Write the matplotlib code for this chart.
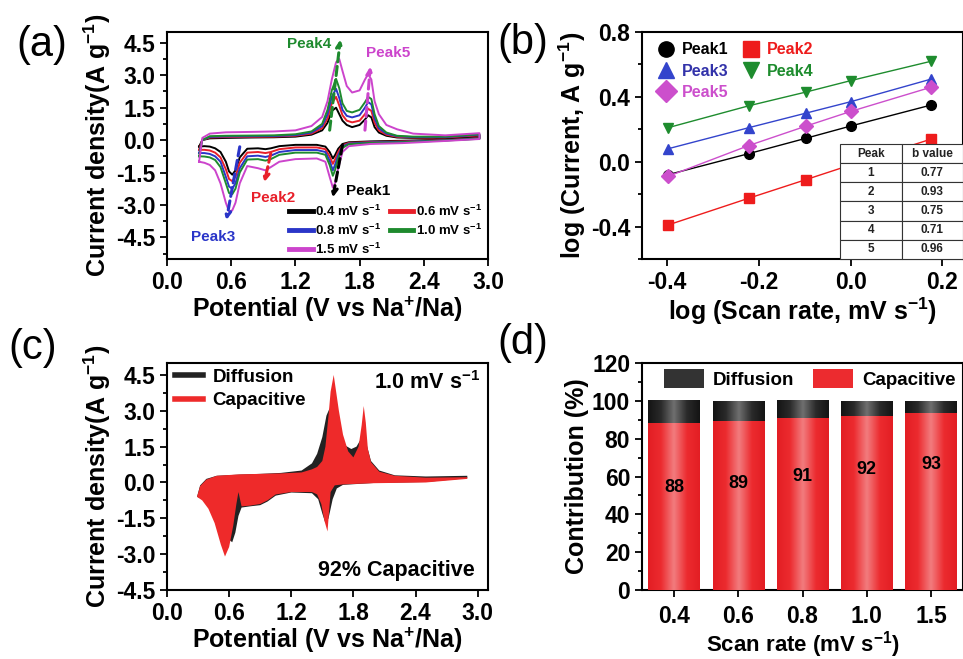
import numpy as np
import matplotlib
matplotlib.use('Agg')
import matplotlib.pyplot as plt
from matplotlib.lines import Line2D
from matplotlib.patches import Patch
from matplotlib.colors import LinearSegmentedColormap

plt.rcParams['font.family'] = ['Liberation Sans', 'DejaVu Sans']
plt.rcParams['font.weight'] = 'bold'
plt.rcParams['axes.labelweight'] = 'bold'
plt.rcParams['mathtext.fontset'] = 'custom'
plt.rcParams['mathtext.rm'] = 'Liberation Sans:bold'
plt.rcParams['mathtext.it'] = 'Liberation Sans:bold'
plt.rcParams['mathtext.bf'] = 'Liberation Sans:bold'
plt.rcParams['mathtext.default'] = 'regular'
plt.rcParams['axes.linewidth'] = 1.5
plt.rcParams['axes.unicode_minus'] = False

# ---------------- DATA ----------------
# (a) CV curves: anodic branch (potential rising) and cathodic branch (potential falling)
scan_labels = ['0.4', '0.6', '0.8', '1.0', '1.5']
V_anodic = [0.30, 0.33, 0.40, 0.55, 0.80, 1.00, 1.20, 1.35, 1.45, 1.50, 1.54, 1.58, 1.61, 1.64,
            1.68, 1.73, 1.80, 1.85, 1.88, 1.91, 1.94, 1.98, 2.05, 2.15, 2.30, 2.60, 2.92]
I_anodic_04 = [-0.30, 0.00, 0.08, 0.10, 0.12, 0.13, 0.16, 0.25, 0.45, 0.80, 1.35, 1.50, 1.20, 0.90,
               0.70, 0.60, 0.70, 0.95, 1.15, 1.05, 0.60, 0.35, 0.20, 0.12, 0.10, 0.10, 0.20]
I_anodic_06 = [-0.45, 0.00, 0.12, 0.14, 0.15, 0.16, 0.20, 0.30, 0.55, 1.00, 1.70, 2.00, 1.60, 1.15,
               0.90, 0.82, 0.90, 1.20, 1.45, 1.35, 0.80, 0.45, 0.25, 0.15, 0.12, 0.12, 0.22]
I_anodic_08 = [-0.60, 0.00, 0.15, 0.17, 0.18, 0.19, 0.23, 0.35, 0.65, 1.20, 2.00, 2.37, 1.95, 1.40,
               1.12, 1.05, 1.15, 1.50, 1.76, 1.65, 1.00, 0.55, 0.30, 0.18, 0.14, 0.14, 0.25]
I_anodic_10 = [-0.75, 0.00, 0.18, 0.20, 0.21, 0.22, 0.27, 0.40, 0.75, 1.40, 2.30, 2.83, 2.40, 1.70,
               1.35, 1.28, 1.40, 1.75, 2.00, 1.90, 1.20, 0.65, 0.35, 0.20, 0.16, 0.16, 0.27]
I_anodic_15 = [-1.00, 0.10, 0.30, 0.36, 0.38, 0.40, 0.45, 0.65, 1.07, 1.80, 2.80, 3.60, 3.75, 3.20,
               2.50, 2.20, 2.30, 2.80, 3.05, 2.80, 1.80, 1.20, 0.70, 0.50, 0.30, 0.22, 0.32]
V_cathodic = [2.92, 2.60, 2.20, 1.90, 1.70, 1.64, 1.60, 1.57, 1.55, 1.52, 1.48, 1.40, 1.20, 1.05,
              0.97, 0.92, 0.85, 0.75, 0.68, 0.64, 0.61, 0.58, 0.55, 0.50, 0.45, 0.40, 0.35, 0.30]
I_cathodic_04 = [0.10, 0.02, -0.03, -0.06, -0.10, -0.18, -0.40, -0.70, -0.85, -0.55, -0.30, -0.22, -0.22, -0.28,
                 -0.38, -0.42, -0.38, -0.40, -0.80, -1.40, -1.60, -1.45, -1.00, -0.55, -0.38, -0.30, -0.28, -0.30]
I_cathodic_06 = [0.08, 0.00, -0.06, -0.09, -0.13, -0.24, -0.55, -0.90, -1.10, -0.75, -0.42, -0.34, -0.34, -0.42,
                 -0.55, -0.60, -0.55, -0.58, -1.05, -1.70, -1.90, -1.80, -1.35, -0.80, -0.58, -0.48, -0.45, -0.45]
I_cathodic_08 = [0.07, -0.01, -0.08, -0.11, -0.16, -0.30, -0.70, -1.15, -1.40, -0.95, -0.55, -0.46, -0.46, -0.55,
                 -0.72, -0.78, -0.72, -0.75, -1.30, -2.00, -2.25, -2.15, -1.70, -1.00, -0.75, -0.64, -0.60, -0.60]
I_cathodic_10 = [0.06, -0.02, -0.10, -0.13, -0.19, -0.36, -0.85, -1.40, -1.65, -1.15, -0.68, -0.58, -0.58, -0.68,
                 -0.88, -0.95, -0.88, -0.90, -1.50, -2.25, -2.50, -2.45, -2.00, -1.25, -0.92, -0.80, -0.76, -0.75]
I_cathodic_15 = [0.05, -0.04, -0.14, -0.18, -0.28, -0.55, -1.30, -2.00, -2.20, -1.70, -1.00, -0.85, -0.88, -1.00,
                 -1.25, -1.40, -1.30, -1.20, -2.00, -2.90, -3.25, -3.30, -2.90, -2.00, -1.40, -1.15, -1.05, -1.00]

# (b) log(i) vs log(v)
log_scan = [-0.398, -0.222, -0.097, 0.0, 0.176]
peak_names = ['Peak1', 'Peak2', 'Peak3', 'Peak4', 'Peak5']
log_i_peak1 = [-0.08, 0.05, 0.145, 0.22, 0.35]
log_i_peak2 = [-0.39, -0.225, -0.11, -0.02, 0.14]
log_i_peak3 = [0.08, 0.21, 0.30, 0.37, 0.51]
log_i_peak4 = [0.21, 0.345, 0.43, 0.50, 0.62]
log_i_peak5 = [-0.09, 0.10, 0.22, 0.31, 0.46]
b_values = [0.77, 0.93, 0.75, 0.71, 0.96]

# (c) 1.0 mV/s: total current (diffusion shows where it exceeds capacitive) and capacitive current
Vt_anodic = [0.29, 0.32, 0.38, 0.48, 0.70, 0.90, 1.10, 1.30, 1.40, 1.45, 1.50, 1.54, 1.57, 1.60,
             1.63, 1.67, 1.72, 1.78, 1.83, 1.87, 1.90, 1.93, 1.97, 2.05, 2.20, 2.50, 2.90]
It_anodic = [-0.60, -0.12, 0.15, 0.28, 0.33, 0.36, 0.40, 0.50, 0.80, 1.20, 1.90, 2.80, 3.10, 2.80,
             2.30, 1.85, 1.55, 1.40, 1.50, 1.80, 2.00, 1.55, 0.90, 0.50, 0.30, 0.25, 0.28]
Vt_cathodic = [2.90, 2.50, 2.00, 1.70, 1.64, 1.60, 1.56, 1.53, 1.50, 1.46, 1.40, 1.20, 1.05,
               0.97, 0.90, 0.80, 0.72, 0.69, 0.66, 0.63, 0.60, 0.56, 0.50, 0.42, 0.35, 0.29]
It_cathodic = [0.18, 0.02, -0.02, -0.10, -0.25, -0.70, -1.50, -1.70, -1.30, -0.70, -0.45, -0.42, -0.55,
               -0.80, -0.95, -1.00, -1.05, -1.40, -2.10, -2.50, -2.40, -2.00, -1.40, -0.95, -0.72, -0.60]
Vc_anodic = [0.29, 0.32, 0.38, 0.48, 0.70, 0.90, 1.10, 1.30, 1.40, 1.45, 1.50, 1.53, 1.56, 1.58, 1.61,
             1.63, 1.66, 1.70, 1.75, 1.80, 1.85, 1.88, 1.90, 1.92, 1.94, 1.97, 2.05, 2.20, 2.50, 2.90]
Ic_anodic = [-0.60, -0.15, 0.12, 0.28, 0.34, 0.36, 0.38, 0.42, 0.55, 0.65, 0.90, 1.50, 2.80, 3.80, 4.50,
             3.90, 3.00, 2.00, 1.30, 1.05, 1.50, 2.40, 3.20, 2.50, 1.40, 0.85, 0.45, 0.28, 0.20, 0.22]
Vc_cathodic = [2.90, 2.50, 2.00, 1.70, 1.62, 1.58, 1.55, 1.52, 1.49, 1.45, 1.40, 1.20, 1.05, 0.97,
               0.90, 0.80, 0.72, 0.69, 0.67, 0.64, 0.60, 0.56, 0.52, 0.46, 0.40, 0.34, 0.29]
Ic_cathodic = [0.15, 0.00, -0.03, -0.08, -0.12, -0.40, -2.05, -1.60, -0.90, -0.50, -0.40, -0.40, -0.50, -0.75,
               -0.90, -0.97, -1.00, -0.40, -0.90, -1.80, -2.70, -3.10, -2.60, -1.70, -1.10, -0.75, -0.60]

# (d) contribution
rate_ticks = ['0.4', '0.6', '0.8', '1.0', '1.5']
capacitive_pct = [88.3, 89.5, 90.8, 92.1, 93.7]
capacitive_labels = [88, 89, 91, 92, 93]

# ---------------- STYLE ----------------
cv_colors = ['#000000', '#e8202a', '#2a35c8', '#1e8a2e', '#cc44cc']
pk_colors = ['#000000', '#ee1c1c', '#3344cc', '#1e8c2e', '#cc4fcc']
pk_markers = ['o', 's', '^', 'v', 'D']
TICK = 16.5
LAB = 18

fig = plt.figure(figsize=(9.63, 6.59), dpi=100)
W, H = 963.0, 659.0


def px_axes(l, r, t, b):
    return fig.add_axes([l / W, 1 - b / H, (r - l) / W, (b - t) / H])


def style(ax):
    ax.tick_params(which='both', direction='out', labelsize=TICK, width=1.3)
    ax.tick_params(which='major', length=5)
    ax.tick_params(which='minor', length=3)


# ---------------- (a) ----------------
axa = px_axes(167, 488, 32, 259)
I_an = [I_anodic_04, I_anodic_06, I_anodic_08, I_anodic_10, I_anodic_15]
I_ca = [I_cathodic_04, I_cathodic_06, I_cathodic_08, I_cathodic_10, I_cathodic_15]
lines_a = []
for lab, c, ia, ic in zip(scan_labels, cv_colors, I_an, I_ca):
    ln, = axa.plot(np.r_[V_anodic, V_cathodic], np.r_[ia, ic], color=c, lw=1.4,
                   label=lab + r' mV s$^{-1}$')
    lines_a.append(ln)
axa.set_xlim(0, 3.0)
axa.set_ylim(-5.5, 5.0)
axa.set_xticks([0, 0.6, 1.2, 1.8, 2.4, 3.0])
axa.set_yticks([-4.5, -3.0, -1.5, 0, 1.5, 3.0, 4.5])
axa.set_yticks(np.arange(-5.25, 5.0, 0.75), minor=True)
axa.xaxis.set_major_formatter(matplotlib.ticker.FormatStrFormatter('%.1f'))
axa.yaxis.set_major_formatter(matplotlib.ticker.FormatStrFormatter('%.1f'))
style(axa)
axa.set_xlabel(r'Potential (V vs Na$^{+}$/Na)', fontsize=LAB, labelpad=1)
axa.set_ylabel(r'Current density(A g$^{-1}$)', fontsize=LAB, labelpad=2)

arrow_kw = dict(arrowstyle='->', lw=2.2, linestyle=(0, (3, 1.5)), mutation_scale=10,
                shrinkA=0, shrinkB=0)
peak_arrows = [  # (tail, head, color, text, text pos)
    ((1.52, 0.46), (1.62, 4.65), cv_colors[3], 'Peak4', (1.33, 4.45)),
    ((1.85, 0.46), (1.90, 3.40), cv_colors[4], 'Peak5', (2.07, 4.05)),
    ((1.64, -0.23), (1.55, -2.65), '#000000', 'Peak1', (1.88, -2.37)),
    ((0.97, -0.61), (0.91, -1.95), cv_colors[1], 'Peak2', (0.99, -2.67)),
    ((0.68, -0.31), (0.555, -3.7), cv_colors[2], 'Peak3', (0.43, -4.46)),
]
for tail, head, c, t, tp in peak_arrows:
    axa.annotate('', xy=head, xytext=tail, arrowprops=dict(color=c, **arrow_kw))
    axa.text(tp[0], tp[1], t, color=c, fontsize=11, ha='center', va='center')

order = [0, 2, 4, 1, 3]
axa.legend([lines_a[i] for i in order], [lines_a[i].get_label() for i in order],
           ncol=2, loc='upper left', bbox_to_anchor=(0.38, 0.245), frameon=False,
           fontsize=9.5, handlelength=1.8, handletextpad=0.2, columnspacing=0.6,
           labelspacing=0.3, borderpad=0, borderaxespad=0)
for ln in axa.get_legend().get_lines():
    ln.set_linewidth(3.5)

# ---------------- (b) ----------------
axb = px_axes(642, 963, 32, 259)
log_i = [log_i_peak1, log_i_peak2, log_i_peak3, log_i_peak4, log_i_peak5]
handles_b = []
for name, c, m, y in zip(peak_names, pk_colors, pk_markers, log_i):
    axb.plot(log_scan, y, color=c, lw=1.0, marker=m, ms=7, zorder=3)
    handles_b.append(Line2D([], [], color=c, marker=m, ls='none', ms=11, label=name))
axb.set_xlim(-0.455, 0.245)
axb.set_ylim(-0.6, 0.8)
axb.set_xticks([-0.4, -0.2, 0.0, 0.2])
axb.set_yticks([-0.4, 0.0, 0.4, 0.8])
axb.set_yticks(np.arange(-0.6, 0.81, 0.2), minor=True)
axb.xaxis.set_major_formatter(matplotlib.ticker.FormatStrFormatter('%.1f'))
axb.yaxis.set_major_formatter(matplotlib.ticker.FormatStrFormatter('%.1f'))
style(axb)
axb.set_xlabel(r'log (Scan rate, mV s$^{-1}$)', fontsize=LAB, labelpad=1)
axb.set_ylabel(r'log (Current, A g$^{-1}$)', fontsize=LAB, labelpad=2)
order_b = [0, 2, 4, 1, 3]
legb = axb.legend([handles_b[i] for i in order_b], [peak_names[i] for i in order_b], ncol=2,
                  loc='upper left', bbox_to_anchor=(0.05, 0.955), frameon=False, fontsize=11.5,
                  handlelength=1.0, handletextpad=0.5, columnspacing=0.9, labelspacing=0.4,
                  borderpad=0, borderaxespad=0)
for txt, i in zip(legb.get_texts(), order_b):
    txt.set_color(pk_colors[i] if i != 2 else '#3333aa')

cell_text = [[str(i + 1), '%.2f' % b] for i, b in enumerate(b_values)]
tab = axb.table(cellText=cell_text, colLabels=['Peak', 'b value'], cellLoc='center',
                bbox=[0.617, 0.0, 0.383, 0.507], zorder=6)
tab.auto_set_font_size(False)
for (r, c), cell in tab.get_celld().items():
    cell.set_fontsize(8.5)
    cell.set_linewidth(0.8)
    cell.set_edgecolor('#333333')
    cell.set_facecolor('white')
    cell.get_text().set_fontweight('bold')
    cell.get_text().set_color('#222222')

# ---------------- (c) ----------------
axc = px_axes(167, 488, 363, 590)
axc.fill(np.r_[Vt_anodic, Vt_cathodic], np.r_[It_anodic, It_cathodic], color='#222222', lw=0, zorder=2)
axc.fill(np.r_[Vc_anodic, Vc_cathodic], np.r_[Ic_anodic, Ic_cathodic], color='#ee2a2a', lw=0, zorder=3)
axc.set_xlim(0, 3.1)
axc.set_ylim(-4.5, 5.0)
axc.set_xticks([0, 0.6, 1.2, 1.8, 2.4, 3.0])
axc.set_yticks([-4.5, -3.0, -1.5, 0, 1.5, 3.0, 4.5])
axc.set_yticks(np.arange(-3.75, 5.0, 0.75), minor=True)
axc.xaxis.set_major_formatter(matplotlib.ticker.FormatStrFormatter('%.1f'))
axc.yaxis.set_major_formatter(matplotlib.ticker.FormatStrFormatter('%.1f'))
style(axc)
axc.set_xlabel(r'Potential (V vs Na$^{+}$/Na)', fontsize=LAB, labelpad=1)
axc.set_ylabel(r'Current density(A g$^{-1}$)', fontsize=LAB, labelpad=2)
axc.legend([Line2D([], [], color='#222222', lw=4), Line2D([], [], color='#ee2a2a', lw=4)],
           ['Diffusion', 'Capacitive'], loc='upper left', bbox_to_anchor=(0.025, 0.975),
           frameon=False, fontsize=13.5, handlelength=1.5, handletextpad=0.5,
           labelspacing=0.35, borderpad=0, borderaxespad=0)
axc.text(0.81, 0.915, r'1.0 mV s$^{-1}$', transform=axc.transAxes, fontsize=15.5,
         ha='center', va='center')
axc.text(0.716, 0.088, '92% Capacitive', transform=axc.transAxes, fontsize=15.5,
         ha='center', va='center')

# ---------------- (d) ----------------
axd = px_axes(642, 963, 363, 590)
xpos = np.arange(len(rate_ticks))
bw = 0.8
diff_pct = [100 - c for c in capacitive_pct]
axd.bar(xpos, capacitive_pct, width=bw, color='#ec2b2f', zorder=2)
axd.bar(xpos, diff_pct, bottom=capacitive_pct, width=bw, color='#222222', zorder=2)
red_cmap = LinearSegmentedColormap.from_list('r', ['#f27b7d', '#ec2b2f', '#e31e24'])
blk_cmap = LinearSegmentedColormap.from_list('k', ['#6e6e6e', '#2a2a2a', '#141414'])
grad = np.abs(np.linspace(-1, 1, 128))[None, :]
for x, cp in zip(xpos, capacitive_pct):
    axd.imshow(grad, extent=[x - bw / 2, x + bw / 2, 0, cp], cmap=red_cmap, aspect='auto',
               zorder=3, interpolation='bilinear')
    axd.imshow(grad, extent=[x - bw / 2, x + bw / 2, cp, 100], cmap=blk_cmap, aspect='auto',
               zorder=3, interpolation='bilinear')
label_y = [54, 56.5, 60, 63.5, 66.5]
for x, lb, ly in zip(xpos, capacitive_labels, label_y):
    axd.text(x, ly, str(lb), ha='center', va='center', fontsize=13, zorder=4)
axd.set_xlim(-0.5, 4.5)
axd.set_ylim(0, 120)
axd.set_xticks(xpos)
axd.set_xticklabels(rate_ticks)
axd.set_yticks(np.arange(0, 121, 20))
axd.set_yticks(np.arange(10, 120, 20), minor=True)
style(axd)
axd.tick_params(axis='x', pad=6)
axd.set_xlabel(r'Scan rate (mV s$^{-1}$)', fontsize=16)
axd.xaxis.set_label_coords(0.5, -0.172)
axd.set_ylabel('Contribution (%)', fontsize=LAB, labelpad=2)
axd.legend([Patch(facecolor='#333333'), Patch(facecolor='#ec2b2f')], ['Diffusion', 'Capacitive'],
           ncol=2, loc='upper left', bbox_to_anchor=(0.07, 0.975), frameon=False, fontsize=13.5,
           handlelength=2.1, handleheight=1.2, handletextpad=0.5, columnspacing=1.0,
           borderpad=0, borderaxespad=0)

# panel labels
for t, (x, y) in zip(['(a)', '(b)', '(c)', '(d)'], [(42, 45), (523, 43), (33, 348), (523, 343)]):
    fig.text(x / W, 1 - y / H, t, fontsize=30, fontweight='normal', ha='center', va='center')

fig.savefig('out.png', dpi=100)
